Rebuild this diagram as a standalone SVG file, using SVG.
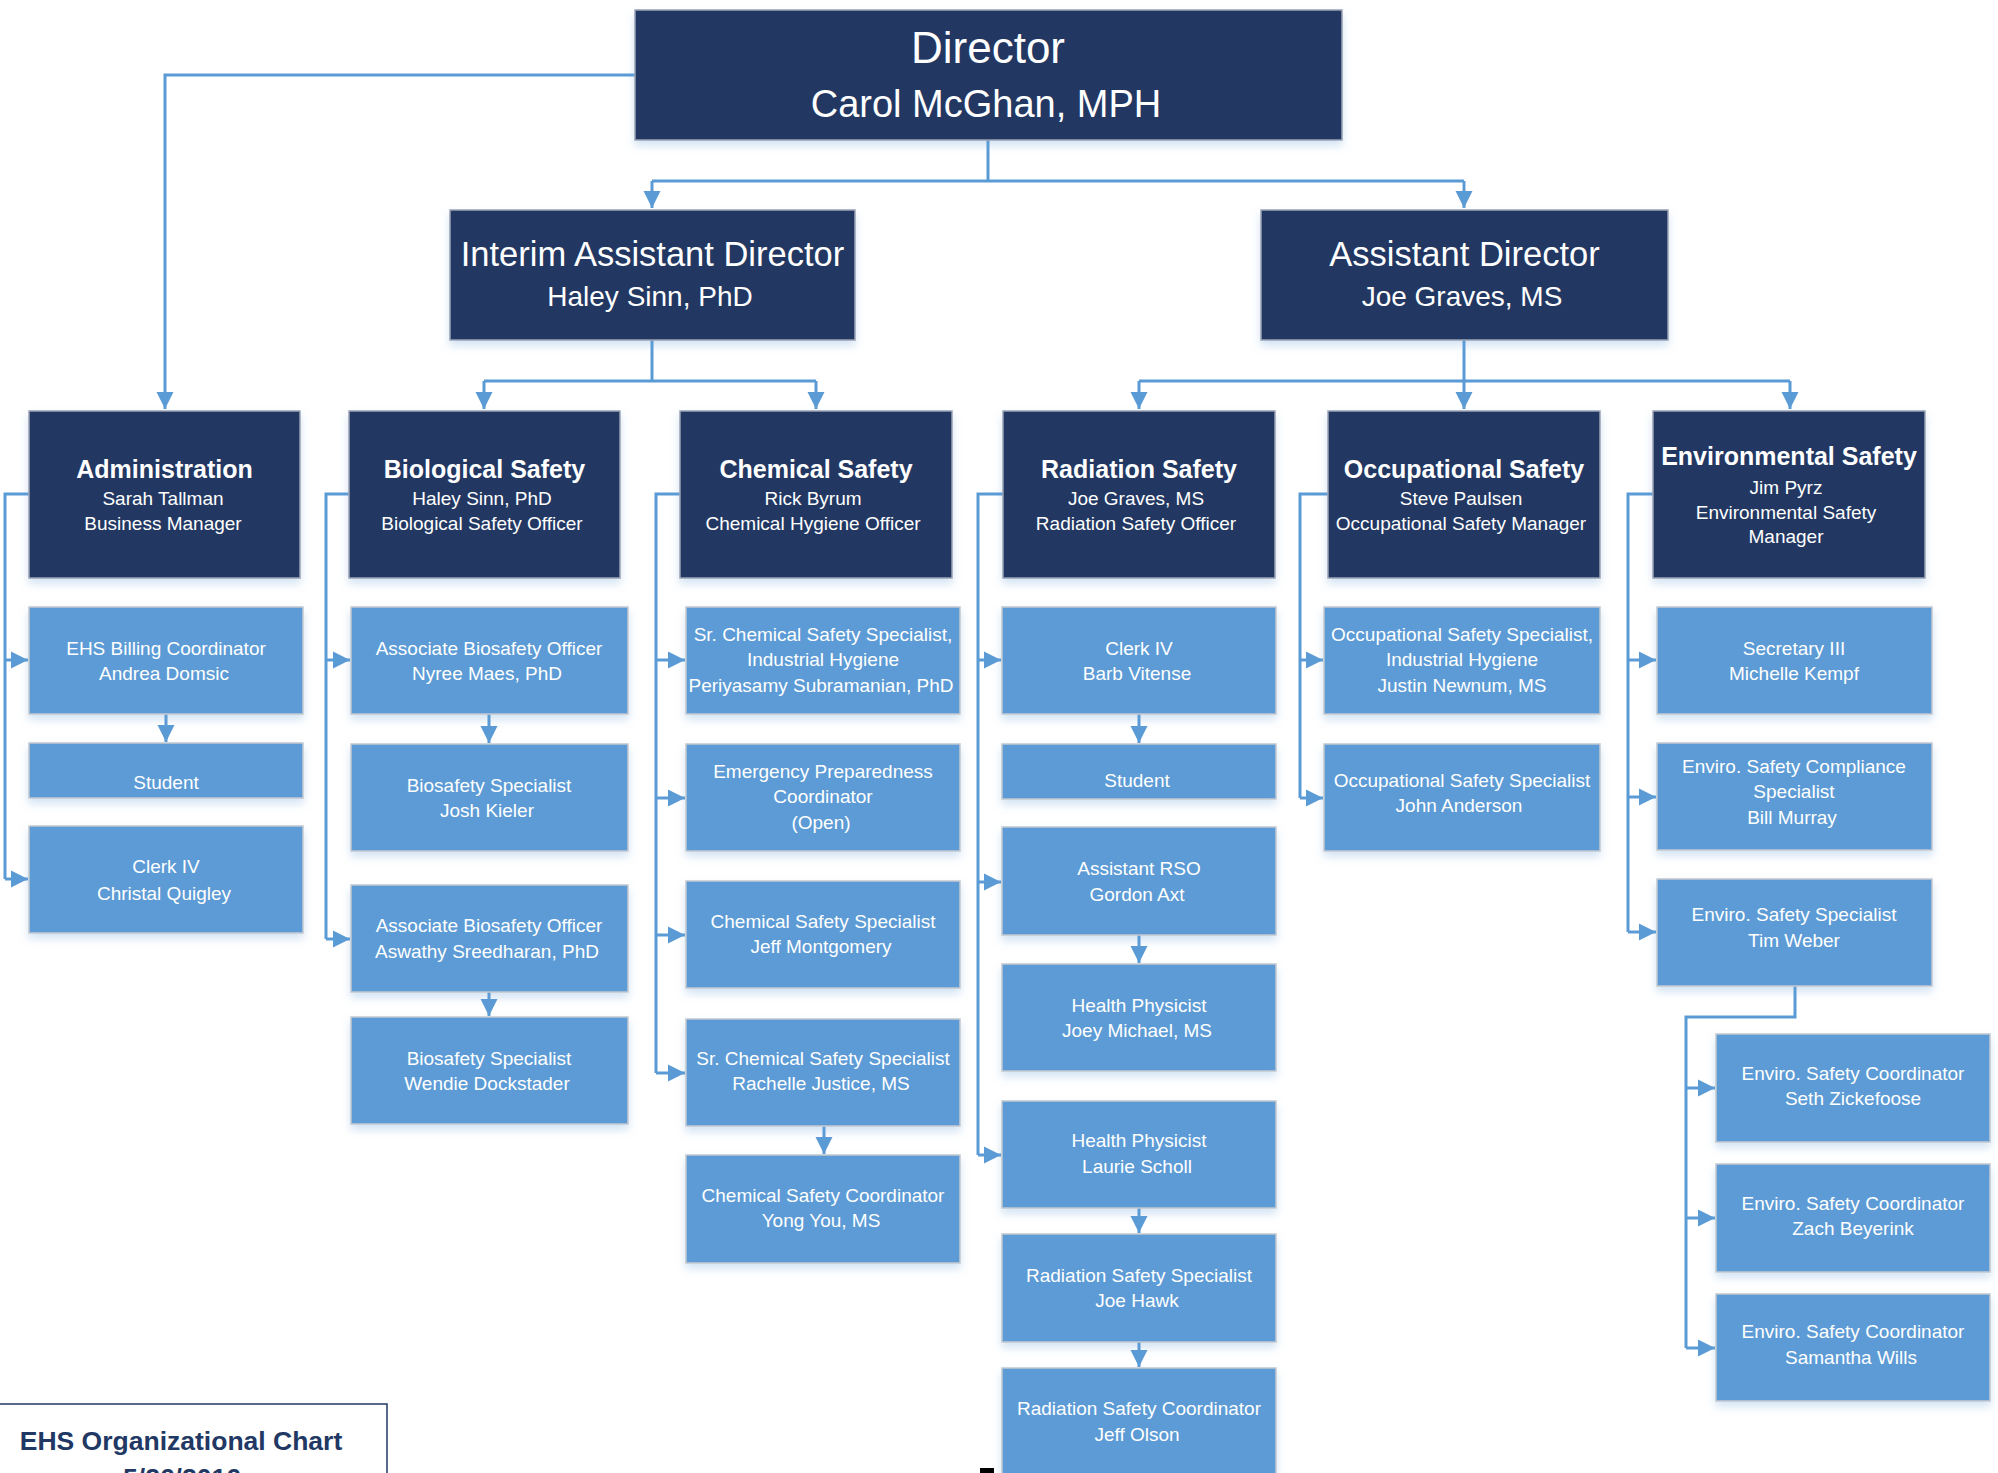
<svg xmlns="http://www.w3.org/2000/svg" width="1998" height="1473" viewBox="0 0 1998 1473">
<defs>
<marker id="arr" viewBox="0 0 10 10" refX="10" refY="5" markerUnits="userSpaceOnUse" markerWidth="17" markerHeight="18" orient="auto">
<path d="M0,0 L10,5 L0,10 z" fill="#5B9BD5"/>
</marker>
<filter id="sh" x="-10%" y="-10%" width="120%" height="140%">
<feDropShadow dx="0" dy="5" stdDeviation="4" flood-color="#5B9BD5" flood-opacity="0.28"/>
</filter>
</defs>
<style>
.nv{fill:#213864;stroke:#9aa3b5;stroke-width:1.5;filter:url(#sh)}
.lb{fill:#5B9BD5;stroke:#c4c9d0;stroke-width:1.5;filter:url(#sh)}
text{font-family:"Liberation Sans",Arial,sans-serif;fill:#ffffff;text-anchor:middle}
.t1a{font-size:44px}
.t1b{font-size:38px}
.t2{font-size:34.5px}
.t2n{font-size:28px}
.h{font-size:25px;font-weight:bold}
.s{font-size:19px}
.c{font-size:19px}
.con{fill:none;stroke:#5B9BD5;stroke-width:3}
.ft{font-size:26.5px;font-weight:bold;fill:#213864}
</style>
<rect width="1998" height="1473" fill="#ffffff"/>

<g id="connectors">
<path class="con" d="M635,75 H165 V409" marker-end="url(#arr)"/>
<path class="con" d="M988,140 V181"/>
<path class="con" d="M652,181 H1464"/>
<path class="con" d="M652,181 V208" marker-end="url(#arr)"/>
<path class="con" d="M1464,181 V208" marker-end="url(#arr)"/>
<path class="con" d="M652,340 V381"/>
<path class="con" d="M484,381 H816"/>
<path class="con" d="M484,381 V409" marker-end="url(#arr)"/>
<path class="con" d="M816,381 V409" marker-end="url(#arr)"/>
<path class="con" d="M1464,340 V381"/>
<path class="con" d="M1139,381 H1790"/>
<path class="con" d="M1139,381 V409" marker-end="url(#arr)"/>
<path class="con" d="M1464,381 V409" marker-end="url(#arr)"/>
<path class="con" d="M1790,381 V409" marker-end="url(#arr)"/>

<path class="con" d="M29,494 H5 V879"/>
<path class="con" d="M5,660 H28" marker-end="url(#arr)"/>
<path class="con" d="M5,879 H28" marker-end="url(#arr)"/>
<path class="con" d="M166,714 V742" marker-end="url(#arr)"/>

<path class="con" d="M349,494 H326 V939"/>
<path class="con" d="M326,660 H350" marker-end="url(#arr)"/>
<path class="con" d="M326,939 H350" marker-end="url(#arr)"/>
<path class="con" d="M489,714 V743" marker-end="url(#arr)"/>
<path class="con" d="M489,992 V1016" marker-end="url(#arr)"/>

<path class="con" d="M680,494 H656 V1073"/>
<path class="con" d="M656,660 H685" marker-end="url(#arr)"/>
<path class="con" d="M656,798 H685" marker-end="url(#arr)"/>
<path class="con" d="M656,935 H685" marker-end="url(#arr)"/>
<path class="con" d="M656,1073 H685" marker-end="url(#arr)"/>
<path class="con" d="M824,1126 V1154" marker-end="url(#arr)"/>

<path class="con" d="M1003,494 H978 V1155"/>
<path class="con" d="M978,660 H1001" marker-end="url(#arr)"/>
<path class="con" d="M978,882 H1001" marker-end="url(#arr)"/>
<path class="con" d="M978,1155 H1001" marker-end="url(#arr)"/>
<path class="con" d="M1139,714 V743" marker-end="url(#arr)"/>
<path class="con" d="M1139,935 V963" marker-end="url(#arr)"/>
<path class="con" d="M1139,1208 V1233" marker-end="url(#arr)"/>
<path class="con" d="M1139,1342 V1367" marker-end="url(#arr)"/>

<path class="con" d="M1328,494 H1300 V798"/>
<path class="con" d="M1300,660 H1323" marker-end="url(#arr)"/>
<path class="con" d="M1300,798 H1323" marker-end="url(#arr)"/>

<path class="con" d="M1653,494 H1628 V932"/>
<path class="con" d="M1628,660 H1656" marker-end="url(#arr)"/>
<path class="con" d="M1628,797 H1656" marker-end="url(#arr)"/>
<path class="con" d="M1628,932 H1656" marker-end="url(#arr)"/>
<path class="con" d="M1795,986 V1017 H1686 V1348"/>
<path class="con" d="M1686,1088 H1715" marker-end="url(#arr)"/>
<path class="con" d="M1686,1218 H1715" marker-end="url(#arr)"/>
<path class="con" d="M1686,1348 H1715" marker-end="url(#arr)"/>
</g>

<g id="director"><rect class="nv" x="635" y="10" width="707" height="130"/>
<text class="t1a" x="988" y="63">Director</text><text class="t1b" x="986" y="117">Carol McGhan, MPH</text></g>
<g id="interim"><rect class="nv" x="450" y="210" width="405" height="130"/>
<text class="t2" x="652.5" y="266">Interim Assistant Director</text><text class="t2n" x="650" y="306">Haley Sinn, PhD</text></g>
<g id="asstdir"><rect class="nv" x="1261" y="210" width="407" height="130"/>
<text class="t2" x="1464.5" y="266">Assistant Director</text><text class="t2n" x="1462" y="306">Joe Graves, MS</text></g>

<g id="admin"><rect class="nv" x="29" y="411" width="271" height="167"/>
<text class="h" x="164.5" y="478">Administration</text><text class="s" x="163" y="505">Sarah Tallman</text><text class="s" x="163" y="530">Business Manager</text></g>
<g id="bio"><rect class="nv" x="349" y="411" width="271" height="167"/>
<text class="h" x="484.5" y="478">Biological Safety</text><text class="s" x="482" y="505">Haley Sinn, PhD</text><text class="s" x="482" y="530">Biological Safety Officer</text></g>
<g id="chem"><rect class="nv" x="680" y="411" width="272" height="167"/>
<text class="h" x="816" y="478">Chemical Safety</text><text class="s" x="813" y="505">Rick Byrum</text><text class="s" x="813" y="530">Chemical Hygiene Officer</text></g>
<g id="rad"><rect class="nv" x="1003" y="411" width="272" height="167"/>
<text class="h" x="1139" y="478">Radiation Safety</text><text class="s" x="1136" y="505">Joe Graves, MS</text><text class="s" x="1136" y="530">Radiation Safety Officer</text></g>
<g id="occ"><rect class="nv" x="1328" y="411" width="272" height="167"/>
<text class="h" x="1464" y="478">Occupational Safety</text><text class="s" x="1461" y="505">Steve Paulsen</text><text class="s" x="1461" y="530">Occupational Safety Manager</text></g>
<g id="env"><rect class="nv" x="1653" y="411" width="272" height="167"/>
<text class="h" x="1789" y="465">Environmental Safety</text><text class="s" x="1786" y="494">Jim Pyrz</text><text class="s" x="1786" y="519">Environmental Safety</text><text class="s" x="1786" y="543">Manager</text></g>

<g id="billing"><rect class="lb" x="29" y="607" width="274" height="107"/>
<text class="c" x="166" y="655">EHS Billing Coordinator</text><text class="c" x="164" y="680">Andrea Domsic</text></g>
<g id="student1"><rect class="lb" x="29" y="743" width="274" height="55"/>
<text class="c" x="166" y="789">Student</text></g>
<g id="clerk1"><rect class="lb" x="29" y="826" width="274" height="107"/>
<text class="c" x="166" y="873">Clerk IV</text><text class="c" x="164" y="900">Christal Quigley</text></g>

<g id="nyree"><rect class="lb" x="351" y="607" width="277" height="107"/>
<text class="c" x="489" y="655">Associate Biosafety Officer</text><text class="c" x="487" y="680">Nyree Maes, PhD</text></g>
<g id="josh"><rect class="lb" x="351" y="744" width="277" height="107"/>
<text class="c" x="489" y="792">Biosafety Specialist</text><text class="c" x="487" y="817">Josh Kieler</text></g>
<g id="aswathy"><rect class="lb" x="351" y="885" width="277" height="107"/>
<text class="c" x="489" y="932">Associate Biosafety Officer</text><text class="c" x="487" y="958">Aswathy Sreedharan, PhD</text></g>
<g id="wendie"><rect class="lb" x="351" y="1017" width="277" height="107"/>
<text class="c" x="489" y="1065">Biosafety Specialist</text><text class="c" x="487" y="1090">Wendie Dockstader</text></g>

<g id="periyasamy"><rect class="lb" x="686" y="607" width="274" height="107"/>
<text class="c" x="823" y="641">Sr. Chemical Safety Specialist,</text><text class="c" x="823" y="666">Industrial Hygiene</text><text class="c" x="821" y="692">Periyasamy Subramanian, PhD</text></g>
<g id="emergency"><rect class="lb" x="686" y="744" width="274" height="107"/>
<text class="c" x="823" y="778">Emergency Preparedness</text><text class="c" x="823" y="803">Coordinator</text><text class="c" x="821" y="829">(Open)</text></g>
<g id="jeff"><rect class="lb" x="686" y="881" width="274" height="107"/>
<text class="c" x="823" y="928">Chemical Safety Specialist</text><text class="c" x="821" y="953">Jeff Montgomery</text></g>
<g id="rachelle"><rect class="lb" x="686" y="1019" width="274" height="107"/>
<text class="c" x="823" y="1065">Sr. Chemical Safety Specialist</text><text class="c" x="821" y="1090">Rachelle Justice, MS</text></g>
<g id="yong"><rect class="lb" x="686" y="1155" width="274" height="108"/>
<text class="c" x="823" y="1202">Chemical Safety Coordinator</text><text class="c" x="821" y="1227">Yong You, MS</text></g>

<g id="barb"><rect class="lb" x="1002" y="607" width="274" height="107"/>
<text class="c" x="1139" y="655">Clerk IV</text><text class="c" x="1137" y="680">Barb Vitense</text></g>
<g id="student2"><rect class="lb" x="1002" y="744" width="274" height="55"/>
<text class="c" x="1137" y="787">Student</text></g>
<g id="gordon"><rect class="lb" x="1002" y="827" width="274" height="108"/>
<text class="c" x="1139" y="875">Assistant RSO</text><text class="c" x="1137" y="901">Gordon Axt</text></g>
<g id="joey"><rect class="lb" x="1002" y="964" width="274" height="107"/>
<text class="c" x="1139" y="1012">Health Physicist</text><text class="c" x="1137" y="1037">Joey Michael, MS</text></g>
<g id="laurie"><rect class="lb" x="1002" y="1101" width="274" height="107"/>
<text class="c" x="1139" y="1147">Health Physicist</text><text class="c" x="1137" y="1173">Laurie Scholl</text></g>
<g id="hawk"><rect class="lb" x="1002" y="1234" width="274" height="108"/>
<text class="c" x="1139" y="1282">Radiation Safety Specialist</text><text class="c" x="1137" y="1307">Joe Hawk</text></g>
<g id="olson"><rect class="lb" x="1002" y="1368" width="274" height="120"/>
<text class="c" x="1139" y="1415">Radiation Safety Coordinator</text><text class="c" x="1137" y="1441">Jeff Olson</text></g>

<g id="justin"><rect class="lb" x="1324" y="607" width="276" height="107"/>
<text class="c" x="1462" y="641">Occupational Safety Specialist,</text><text class="c" x="1462" y="666">Industrial Hygiene</text><text class="c" x="1462" y="692">Justin Newnum, MS</text></g>
<g id="john"><rect class="lb" x="1324" y="744" width="276" height="107"/>
<text class="c" x="1462" y="787">Occupational Safety Specialist</text><text class="c" x="1459" y="812">John Anderson</text></g>

<g id="secretary"><rect class="lb" x="1657" y="607" width="275" height="107"/>
<text class="c" x="1794" y="655">Secretary III</text><text class="c" x="1794" y="680">Michelle Kempf</text></g>
<g id="compliance"><rect class="lb" x="1657" y="743" width="275" height="107"/>
<text class="c" x="1794" y="773">Enviro. Safety Compliance</text><text class="c" x="1794" y="798">Specialist</text><text class="c" x="1792" y="824">Bill Murray</text></g>
<g id="tim"><rect class="lb" x="1657" y="879" width="275" height="107"/>
<text class="c" x="1794" y="921">Enviro. Safety Specialist</text><text class="c" x="1794" y="947">Tim Weber</text></g>
<g id="seth"><rect class="lb" x="1716" y="1034" width="274" height="108"/>
<text class="c" x="1853" y="1080">Enviro. Safety Coordinator</text><text class="c" x="1853" y="1105">Seth Zickefoose</text></g>
<g id="zach"><rect class="lb" x="1716" y="1164" width="274" height="108"/>
<text class="c" x="1853" y="1210">Enviro. Safety Coordinator</text><text class="c" x="1853" y="1235">Zach Beyerink</text></g>
<g id="samantha"><rect class="lb" x="1716" y="1294" width="274" height="107"/>
<text class="c" x="1853" y="1338">Enviro. Safety Coordinator</text><text class="c" x="1851" y="1364">Samantha Wills</text></g>

<g id="title"><rect x="-2" y="1404" width="389" height="90" fill="#ffffff" stroke="#213864" stroke-width="1.5"/>
<text class="ft" x="181" y="1450">EHS Organizational Chart</text><text class="ft" x="182" y="1487">5/26/2016</text></g>
<rect x="980" y="1468" width="14" height="5" fill="#000000"/>
</svg>
